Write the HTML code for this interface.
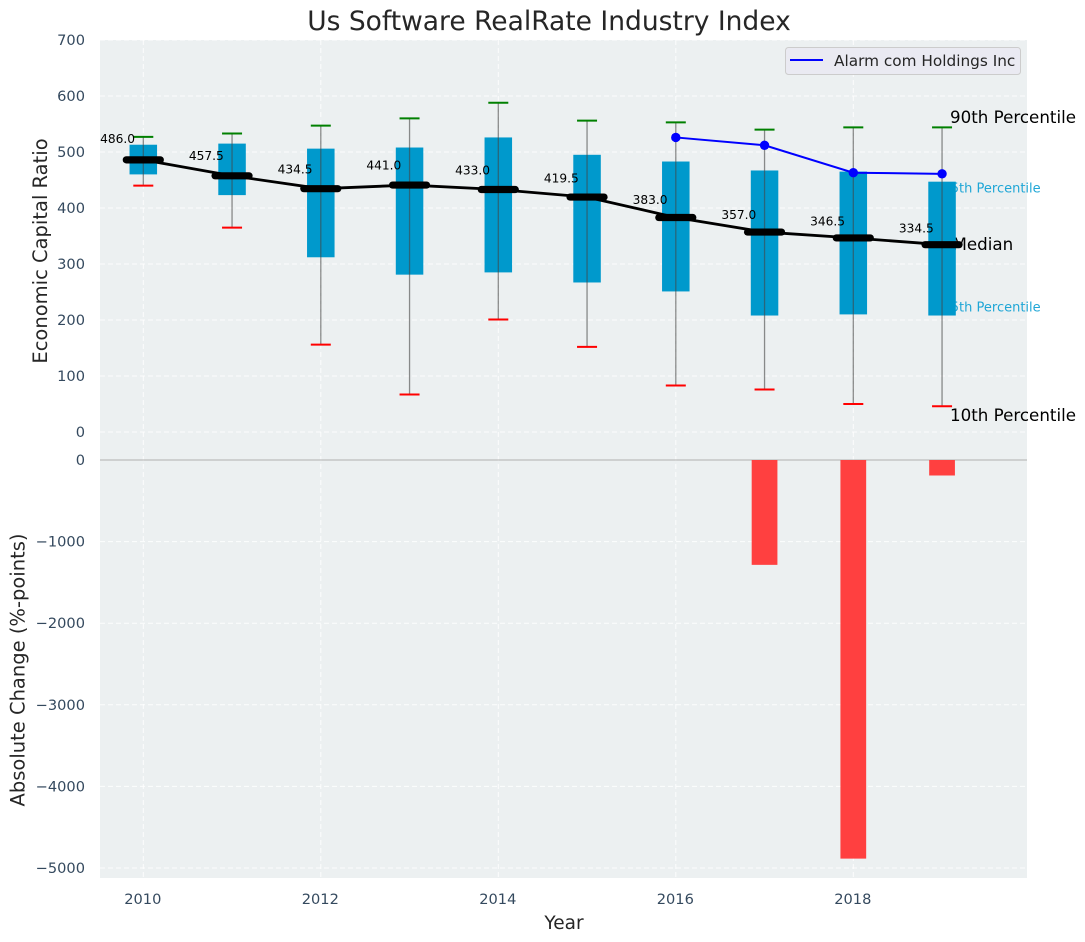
<!DOCTYPE html>
<html>
<head>
<meta charset="utf-8">
<title>Us Software RealRate Industry Index</title>
<style>
html,body{margin:0;padding:0;background:#fff;width:1085px;height:942px;overflow:hidden}
svg{display:block;font-family:"DejaVu Sans","Liberation Sans",sans-serif}
</style>
</head>
<body>
<svg id="chart" xmlns="http://www.w3.org/2000/svg" width="1085" height="942" viewBox="0 0 1085 942">
  <rect x="100" y="40" width="927" height="838" fill="#ecf0f1"/>
  <g id="grid"></g>
  <g id="annotations">
    <text x="942.5" y="192.5" font-size="13" fill="#1fa6d6">75th Percentile</text>
    <text x="942.5" y="311.5" font-size="13" fill="#1fa6d6">25th Percentile</text>
    <text x="950" y="123" font-size="16.7" fill="#000">90th Percentile</text>
    <text x="952.5" y="250" font-size="16.7" fill="#000">Median</text>
    <text x="950" y="421" font-size="16.7" fill="#000">10th Percentile</text>
  </g>
  <g id="bars"></g>
  <g id="boxes"></g>
  <g id="lines"></g>
  <g id="values"></g>
  <g id="ticks"></g>
  <text x="549" y="30" text-anchor="middle" font-size="26.5" fill="#262626">Us Software RealRate Industry Index</text>
  <text transform="translate(47,251) rotate(-90)" text-anchor="middle" font-size="19.5" fill="#262626">Economic Capital Ratio</text>
  <text transform="translate(24.5,670) rotate(-90)" text-anchor="middle" font-size="19.5" fill="#262626">Absolute Change (%-points)</text>
  <text x="564" y="929" text-anchor="middle" font-size="18.5" fill="#262626">Year</text>
  <g>
    <rect x="785.5" y="47.5" width="235" height="27" rx="3" fill="#eaeaf2" stroke="#cccccc" stroke-width="1"/>
    <line x1="790" y1="60" x2="823" y2="60" stroke="#0000ff" stroke-width="2"/>
    <text x="834" y="66" font-size="15.3" fill="#262626">Alarm com Holdings Inc</text>
  </g>
</svg>
<script>
const years = [2010, 2011, 2012, 2013, 2014, 2015, 2016, 2017, 2018, 2019];
const p90 = [527, 533, 547, 560, 588, 556, 553, 540, 544, 544];
const p75 = [513, 515, 506, 508, 526, 495, 483, 467, 465, 447];
const medians = [486, 457.5, 434.5, 441, 433, 419.5, 383, 357, 346.5, 334.5];
const p25 = [460, 423, 312, 281, 285, 267, 251, 208, 210, 208];
const p10 = [440, 365, 156, 67, 201, 152, 83, 76, 50, 46];
const medianLabels = ["486.0", "457.5", "434.5", "441.0", "433.0", "419.5", "383.0", "357.0", "346.5", "334.5"];
const companyYears = [2016, 2017, 2018, 2019];
const companyValues = [526, 512, 463, 461];
const changeYears = [2017, 2018, 2019];
const changeValues = [-1285, -4885, -190];
const xTickValues = [2010, 2012, 2014, 2016, 2018];
const topTickValues = [0, 100, 200, 300, 400, 500, 600, 700];
const bottomTickValues = [0, -1000, -2000, -3000, -4000, -5000];

const NS = 'http://www.w3.org/2000/svg';
const pxPerYear = 88.75;
const xScale = v => 143.3 + (v - 2010) * pxPerYear;
const yTop = v => 432 - v * 0.56;
const yBottom = v => 460 - v * 0.0816;

function make(parent, tag, props, text) {
  const el = document.createElementNS(NS, tag);
  for (const k in props) el.setAttribute(k, props[k]);
  if (text !== undefined) el.textContent = text;
  document.getElementById(parent).appendChild(el);
  return el;
}

const gridStyle = {stroke: '#ffffff', 'stroke-width': 1, 'stroke-dasharray': '5 3', 'stroke-opacity': 0.85};
xTickValues.forEach(v => {
  const g = make('grid', 'line', Object.assign({x1: xScale(v), x2: xScale(v), y1: 40, y2: 878}, gridStyle));
  
  
  const t = make('ticks', 'text', {x: xScale(v) - 0.5, y: 904, 'text-anchor': 'middle', 'font-size': 14.6, fill: '#34495e'}, String(v));
  
  
});
topTickValues.forEach(v => {
  const g = make('grid', 'line', Object.assign({x1: 100, x2: 1027, y1: yTop(v), y2: yTop(v)}, gridStyle));
  
  
  const t = make('ticks', 'text', {x: 85, y: yTop(v) + 5, 'text-anchor': 'end', 'font-size': 14.6, fill: '#34495e'}, String(v));
  
  
});
bottomTickValues.forEach(v => {
  const g = make('grid', 'line', Object.assign({x1: 100, x2: 1027, y1: yBottom(v), y2: yBottom(v)}, gridStyle));
  
  
  const t = make('ticks', 'text', {x: 85, y: yBottom(v) + 5, 'text-anchor': 'end', 'font-size': 14.6, fill: '#34495e'}, String(v).replace('-', '\u2212'));
  
  
});

const zero = make('grid', 'line', {x1: 100, x2: 1027, y1: yBottom(0), y2: yBottom(0), stroke: '#bdbdbd', 'stroke-width': 1.3});



changeYears.forEach((y, i) => {
  const b = make('bars', 'rect', {x: xScale(y) - 0.145 * pxPerYear, y: yBottom(0), width: 0.29 * pxPerYear, height: yBottom(changeValues[i]) - yBottom(0), fill: '#ff4040'});
  
  
});

years.forEach((y, i) => {
  const cx = xScale(y);
  const box = make('boxes', 'rect', {x: cx - 0.155 * pxPerYear, y: yTop(p75[i]), width: 0.31 * pxPerYear, height: yTop(p25[i]) - yTop(p75[i]), fill: '#0099cc'});
  
  
  const wh = make('boxes', 'line', {x1: cx, x2: cx, y1: yTop(p90[i]), y2: yTop(p10[i]), stroke: '#444444', 'stroke-opacity': 0.6, 'stroke-width': 1.3});
  
  
  const capHi = make('boxes', 'line', {x1: cx - 10, x2: cx + 10, y1: yTop(p90[i]), y2: yTop(p90[i]), stroke: '#008000', 'stroke-width': 2});
  
  
  const capLo = make('boxes', 'line', {x1: cx - 10, x2: cx + 10, y1: yTop(p10[i]), y2: yTop(p10[i]), stroke: '#ff0000', 'stroke-width': 2});
  
  
});

const medianPath = make('lines', 'polyline', {points: years.map((y, i) => xScale(y) + ',' + yTop(medians[i])).join(' '), fill: 'none', stroke: '#000', 'stroke-width': 2.8});


years.forEach((y, i) => {
  const cx = xScale(y);
  const m = make('lines', 'line', {x1: cx - 17, x2: cx + 17, y1: yTop(medians[i]), y2: yTop(medians[i]), stroke: '#000', 'stroke-width': 7.2, 'stroke-linecap': 'round'});
  
  
  const t = make('values', 'text', {x: cx - 8.3, y: yTop(medians[i] * 1.05) - 3, 'text-anchor': 'end', 'font-size': 12.2, fill: '#000'}, medianLabels[i]);
  
  
});

const companyPath = make('lines', 'polyline', {points: companyYears.map((y, i) => xScale(y) + ',' + yTop(companyValues[i])).join(' '), fill: 'none', stroke: '#0000ff', 'stroke-width': 2});


companyYears.forEach((y, i) => {
  const c = make('lines', 'circle', {cx: xScale(y), cy: yTop(companyValues[i]), r: 4.7, fill: '#0000ff'});
  
  
});
</script>
</body>
</html>
